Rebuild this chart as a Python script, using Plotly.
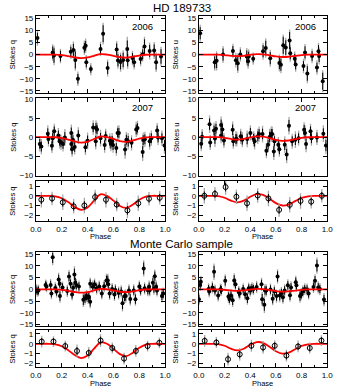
import plotly.graph_objects as go
from plotly.subplots import make_subplots

W, H = 339, 392
FONT = "Liberation Sans, Arial, sans-serif"
RED = "#ff0000"
GREY = "#a8a8a8"

# ---- model curves (phase grid 0..1 step 0.05) ----
model_phase = [0.0, 0.05, 0.1, 0.15, 0.2, 0.25, 0.3, 0.35, 0.4, 0.45, 0.5,
               0.55, 0.6, 0.65, 0.7, 0.75, 0.8, 0.85, 0.9, 0.95, 1.0]
model_q = [0.0, 0.0, 0.0, -0.05, -0.25, -0.65, -1.15, -1.45, -1.2, -0.5, 0.15,
           0.0, -0.5, -1.05, -1.25, -0.9, -0.4, -0.08, 0.0, 0.0, 0.0]
model_u = [0.0, 0.0, 0.0, -0.03, -0.2, -0.5, -0.67, -0.5, -0.1, 0.17, 0.1,
           -0.3, -0.75, -1.0, -0.9, -0.55, -0.22, -0.05, 0.0, 0.0, 0.0]

# ---- 2006 ----
q06_phase = [0.012, 0.13, 0.14, 0.19, 0.27, 0.29, 0.305, 0.325, 0.375, 0.385, 0.39, 0.425, 0.50, 0.52, 0.555,
             0.625, 0.635, 0.655, 0.675, 0.707, 0.71, 0.747, 0.76, 0.81, 0.826, 0.84, 0.88, 0.915, 0.93, 0.968]
q06_val = [6.8, 0.8, -0.4, -0.6, 1.2, 1.9, -2.2, -10.0, 2.8, 3.6, -3.2, -6.0, 2.3, 8.6, -5.5,
           2.1, -2.4, -3.1, -2.2, 2.3, -2.3, -1.4, -3.2, -1.8, 0.1, 3.3, 1.5, 1.7, -3.2, -0.8]
q06_err = [2.2, 2.5, 3.0, 2.2, 2.0, 2.5, 3.5, 2.0, 2.0, 2.0, 2.0, 1.5, 2.0, 3.5, 2.5,
           2.5, 2.5, 3.0, 3.0, 3.5, 2.5, 2.0, 2.0, 2.0, 2.0, 3.0, 2.5, 2.5, 3.0, 3.0]
q06_err2 = [3.2, 3.5, 4.0, 3.0, 3.0, 3.5, 4.5, 3.0, 3.0, 3.0, 3.0, 2.5, 3.0, 4.5, 3.5,
            3.5, 3.5, 4.0, 4.0, 5.0, 3.5, 3.0, 3.0, 3.0, 3.0, 4.0, 3.5, 3.5, 4.0, 4.0]

u06_phase = [0.01, 0.123, 0.138, 0.188, 0.265, 0.288, 0.303, 0.323, 0.373, 0.383, 0.388, 0.423, 0.50, 0.521, 0.556,
             0.627, 0.639, 0.657, 0.677, 0.707, 0.712, 0.747, 0.754, 0.815, 0.827, 0.845, 0.882, 0.92, 0.932, 0.937, 0.965]
u06_val = [8.8, -3.2, -2.6, 0.0, 1.5, -2.3, -3.6, 0.0, -0.8, -2.8, -0.8, -1.7, 1.4, 2.7, -1.5,
           -3.5, -4.2, 3.8, 2.9, 5.8, 0.5, -1.7, -4.1, -4.7, 0.9, -7.8, -0.6, -5.3, 1.4, -0.6, -11.0]
u06_err = [2.5, 2.5, 3.0, 2.5, 2.0, 2.0, 3.0, 2.0, 2.5, 2.0, 2.0, 1.5, 2.5, 3.0, 2.5,
           2.5, 2.5, 3.5, 3.0, 3.5, 2.5, 2.0, 2.0, 2.0, 2.5, 3.0, 2.0, 2.0, 2.5, 2.5, 3.5]
u06_err2 = [3.5, 3.5, 4.0, 3.5, 3.0, 3.0, 4.0, 3.0, 3.5, 3.0, 3.0, 2.5, 3.5, 4.0, 3.5,
            3.5, 3.5, 4.5, 4.0, 4.5, 3.5, 3.0, 3.0, 3.0, 3.5, 4.0, 3.0, 3.0, 3.5, 3.5, 4.5]

# ---- 2007 ----
q07_phase = [0.03, 0.042, 0.092, 0.097, 0.124, 0.13, 0.142, 0.174, 0.184, 0.194, 0.21, 0.224, 0.274, 0.274, 0.28,
             0.286, 0.30, 0.328, 0.383, 0.40, 0.443, 0.463, 0.465, 0.473, 0.50, 0.532, 0.54, 0.572, 0.58, 0.59,
             0.597, 0.622, 0.632, 0.642, 0.69, 0.70, 0.714, 0.74, 0.776, 0.786, 0.826, 0.83, 0.843, 0.88, 0.893,
             0.938, 0.945, 0.975, 0.995]
q07_val = [-1.8, -2.5, 0.9, -0.5, -2.3, -0.3, 1.5, 0.4, -1.1, -1.4, -1.8, -0.1, 1.1, -1.8, -3.2,
           -0.7, -2.6, 0.4, -2.7, -1.0, 2.5, -1.1, 2.4, 2.0, -0.3, -2.1, 0.3, -1.0, -1.7, -1.1,
           -2.1, -2.9, 1.1, 1.1, -3.3, -0.7, -1.1, -1.5, 2.0, 2.4, -3.9, -0.8, -0.6, -1.1, -0.3,
           1.7, -0.1, -0.3, -2.2]
q07_err = [1.3, 1.3, 1.4, 1.3, 1.2, 1.4, 1.3, 1.3, 1.2, 1.3, 1.3, 1.4, 1.4, 1.3, 1.3,
           1.2, 1.3, 1.4, 1.3, 1.4, 1.2, 1.4, 1.3, 1.2, 1.4, 1.3, 1.2, 1.3, 1.3, 1.4,
           1.3, 1.3, 1.2, 1.3, 1.5, 1.3, 1.4, 1.3, 1.3, 1.2, 1.5, 1.3, 1.3, 1.4, 1.3,
           1.3, 1.3, 1.3, 1.4]
q07_err2 = [2.0, 2.0, 2.2, 2.0, 1.9, 2.2, 2.0, 2.0, 1.9, 2.0, 2.0, 2.2, 2.2, 2.0, 2.0,
            1.9, 2.0, 2.2, 2.0, 2.2, 1.9, 2.2, 2.0, 1.9, 2.2, 2.0, 1.9, 2.0, 2.0, 2.2,
            2.0, 2.0, 1.9, 2.0, 2.4, 2.0, 2.2, 2.0, 2.0, 1.9, 2.4, 2.0, 2.0, 2.2, 2.0,
            2.0, 2.0, 2.0, 2.2]

u07_phase = [0.018, 0.025, 0.083, 0.088, 0.118, 0.125, 0.133, 0.173, 0.173, 0.183, 0.195, 0.263, 0.268, 0.288, 0.295,
             0.326, 0.338, 0.376, 0.401, 0.426, 0.434, 0.459, 0.469, 0.496, 0.526, 0.539, 0.551, 0.564, 0.571, 0.584,
             0.589, 0.619, 0.627, 0.669, 0.684, 0.702, 0.727, 0.752, 0.777, 0.82, 0.827, 0.835, 0.87, 0.877, 0.92,
             0.97, 0.99]
u07_val = [-1.75, 0.1, 3.4, -1.4, 1.75, -0.4, 2.2, 3.2, 0.4, 2.0, -0.9, 1.9, -1.1, -0.5, -0.5,
           0.2, -0.7, -0.5, 1.1, -0.5, -1.1, 0.2, 0.8, 0.8, -3.6, -2.0, 0.0, 0.8, 0.8, -3.8,
           -1.1, -2.0, -3.2, -2.0, -4.6, 3.0, -1.1, -0.7, -0.3, 1.9, 1.1, -1.8, 1.5, -0.3, -0.1,
           0.9, -2.2]
u07_err = [1.3, 1.3, 1.5, 1.3, 1.3, 1.4, 1.3, 1.4, 1.3, 1.3, 1.3, 1.4, 1.3, 1.3, 1.2,
           1.3, 1.3, 1.4, 1.3, 1.3, 1.4, 1.3, 1.3, 1.4, 1.3, 1.3, 1.4, 1.3, 1.3, 1.4,
           1.3, 1.3, 1.3, 1.4, 1.5, 1.5, 1.3, 1.4, 1.3, 1.3, 1.3, 1.4, 1.3, 1.3, 1.3,
           1.4, 1.5]
u07_err2 = [2.0, 2.0, 2.3, 2.0, 2.0, 2.2, 2.0, 2.2, 2.0, 2.0, 2.0, 2.2, 2.0, 2.0, 1.9,
            2.0, 2.0, 2.2, 2.0, 2.0, 2.2, 2.0, 2.0, 2.2, 2.0, 2.0, 2.2, 2.0, 2.0, 2.2,
            2.0, 2.0, 2.0, 2.2, 2.3, 2.3, 2.0, 2.2, 2.0, 2.0, 2.0, 2.2, 2.0, 2.0, 2.0,
            2.2, 2.3]

# ---- binned 2006+2007 (12 bins) ----
bin12_phase = [0.042, 0.125, 0.208, 0.292, 0.375, 0.458, 0.542, 0.625, 0.708, 0.792, 0.875, 0.958]
binq_val = [-0.4, -0.27, -0.67, -1.08, -1.0, -0.13, -0.4, -0.9, -1.5, -0.77, -0.3, -0.2]
binq_err = [0.45, 0.4, 0.45, 0.45, 0.45, 0.45, 0.45, 0.4, 0.45, 0.45, 0.4, 0.4]
binq_err2 = [0.8, 0.7, 0.8, 0.75, 0.8, 0.75, 0.8, 0.7, 0.8, 0.8, 0.7, 0.7]
binu_val = [0.0, 0.2, 0.9, -0.1, -0.77, 0.03, -0.27, -1.45, -0.93, -0.53, -0.6, 0.0]
binu_err = [0.45, 0.4, 0.45, 0.45, 0.45, 0.45, 0.45, 0.4, 0.45, 0.45, 0.4, 0.4]
binu_err2 = [0.8, 0.7, 0.8, 0.75, 0.8, 0.75, 0.8, 0.7, 0.8, 0.8, 0.7, 0.7]

# ---- Monte Carlo sample ----
mcq_phase = [0.0, 0.01, 0.02, 0.075, 0.082, 0.114, 0.12, 0.13, 0.15, 0.16, 0.176, 0.184, 0.186, 0.206, 0.243,
             0.256, 0.268, 0.28, 0.288, 0.298, 0.305, 0.313, 0.333, 0.367, 0.38, 0.392, 0.404, 0.41, 0.42, 0.42,
             0.44, 0.454, 0.47, 0.49, 0.51, 0.528, 0.546, 0.556, 0.56, 0.57, 0.59, 0.608, 0.615, 0.64, 0.66,
             0.67, 0.685, 0.695, 0.72, 0.73, 0.757, 0.77, 0.80, 0.81, 0.834, 0.841, 0.866, 0.876, 0.88, 0.905,
             0.913, 0.92, 0.93, 0.937, 0.975, 0.985]
mcq_val = [-0.1, -0.8, -0.5, 1.8, 1.2, 1.8, -1.8, 13.7, 0.5, -0.9, 4.2, 2.4, -2.9, 0.8, -0.7,
           5.4, 2.4, -2.2, 0.7, 6.3, 2.8, 1.8, 1.2, -4.5, -3.8, -2.9, -3.6, -3.2, -5.3, 2.4,
           1.1, 2.1, 0.4, 1.2, -1.8, 1.3, 3.8, 3.8, 2.1, -1.8, 0.1, -2.2, -0.3, -1.6, -0.9,
           -6.0, -3.0, -2.9, -0.5, -4.1, -0.5, -4.2, 1.2, -0.3, 8.9, 0.4, -0.4, 1.1, -0.4, 2.8,
           0.3, 5.6, 1.1, -0.5, -2.9, -1.8]
mcq_err = [1.8, 1.6, 1.7, 1.6, 1.7, 1.8, 1.6, 2.5, 1.7, 1.8, 2.0, 1.7, 2.0, 1.7, 1.8,
           2.0, 1.8, 1.8, 1.7, 2.5, 2.0, 1.8, 1.8, 2.2, 2.0, 1.8, 1.8, 1.8, 2.0, 1.8,
           1.8, 1.7, 1.8, 1.8, 1.8, 1.8, 2.0, 2.0, 1.8, 2.0, 1.8, 2.0, 1.8, 2.0, 1.8,
           2.5, 2.0, 2.0, 1.8, 2.0, 1.8, 2.0, 1.8, 1.8, 2.5, 1.8, 1.8, 1.8, 1.8, 2.0,
           1.8, 2.0, 1.8, 1.8, 1.8, 1.8]
mcq_err2 = [2.6, 2.4, 2.5, 2.4, 2.5, 2.6, 2.4, 3.5, 2.5, 2.6, 2.8, 2.5, 2.8, 2.5, 2.6,
            2.8, 2.6, 2.6, 2.5, 3.5, 2.8, 2.6, 2.6, 3.0, 2.8, 2.6, 2.6, 2.6, 2.8, 2.6,
            2.6, 2.5, 2.6, 2.6, 2.6, 2.6, 2.8, 2.8, 2.6, 2.8, 2.6, 2.8, 2.6, 2.8, 2.6,
            3.5, 2.8, 2.8, 2.6, 2.8, 2.6, 2.8, 2.6, 2.6, 3.5, 2.6, 2.6, 2.6, 2.6, 2.8,
            2.6, 2.8, 2.6, 2.6, 2.6, 2.6]

mcu_phase = [0.0, 0.01, 0.015, 0.075, 0.08, 0.105, 0.118, 0.125, 0.15, 0.168, 0.175, 0.205, 0.23, 0.238, 0.25,
             0.263, 0.275, 0.285, 0.31, 0.318, 0.345, 0.36, 0.378, 0.388, 0.40, 0.413, 0.425, 0.45, 0.488, 0.493,
             0.51, 0.515, 0.525, 0.558, 0.575, 0.588, 0.605, 0.613, 0.63, 0.643, 0.655, 0.668, 0.693, 0.71, 0.718,
             0.755, 0.76, 0.788, 0.798, 0.81, 0.825, 0.843, 0.855, 0.893, 0.905, 0.92, 0.93, 0.943, 0.975]
mcu_val = [-4.2, 1.8, 3.2, 0.1, -0.9, 0.8, 7.5, -0.5, -2.6, 0.0, -0.3, 3.6, -3.1, -4.0, -2.7,
           -4.7, 3.8, 2.1, -1.2, -1.8, 0.1, -2.1, -3.8, 0.4, -0.5, 0.5, 0.1, 1.0, 2.1, -4.2,
           -6.6, -0.5, -0.5, -0.1, -4.0, -0.9, -2.9, 5.5, -2.7, -1.6, -3.4, -0.5, 1.7, -2.5, 0.8,
           3.0, 1.7, -2.9, -2.1, -0.9, 0.1, -0.1, -1.8, 1.0, 3.6, 10.1, 0.8, 0.1, -4.4]
mcu_err = [1.8, 1.7, 1.8, 1.7, 1.7, 1.8, 2.5, 1.7, 1.8, 1.7, 1.7, 2.0, 1.8, 1.8, 1.8,
           2.0, 2.2, 1.8, 1.8, 1.8, 1.7, 1.8, 2.0, 1.7, 1.8, 1.7, 1.7, 1.8, 2.0, 2.2,
           2.5, 1.8, 1.8, 1.8, 2.0, 1.8, 2.0, 2.2, 2.0, 1.8, 2.0, 1.8, 1.8, 2.0, 1.8,
           2.0, 1.8, 2.0, 1.8, 1.8, 1.7, 1.8, 1.8, 1.8, 2.0, 2.5, 1.8, 1.8, 2.0]
mcu_err2 = [2.6, 2.5, 2.6, 2.5, 2.5, 2.6, 3.5, 2.5, 2.6, 2.5, 2.5, 2.8, 2.6, 2.6, 2.6,
            2.8, 3.0, 2.6, 2.6, 2.6, 2.5, 2.6, 2.8, 2.5, 2.6, 2.5, 2.5, 2.6, 2.8, 3.0,
            3.5, 2.6, 2.6, 2.6, 2.8, 2.6, 2.8, 3.0, 2.8, 2.6, 2.8, 2.6, 2.6, 2.8, 2.6,
            2.8, 2.6, 2.8, 2.6, 2.6, 2.5, 2.6, 2.6, 2.6, 2.8, 3.5, 2.6, 2.6, 2.8]

# ---- binned Monte Carlo (11 bins) ----
bin11_phase = [0.045, 0.136, 0.227, 0.318, 0.409, 0.5, 0.591, 0.682, 0.773, 0.864, 0.955]
mcbinq_val = [0.23, 0.23, -0.23, -0.73, -0.93, 0.33, -0.43, -1.5, -0.73, -0.23, 0.1]
mcbinq_err = [0.35, 0.35, 0.35, 0.4, 0.35, 0.4, 0.35, 0.4, 0.35, 0.35, 0.35]
mcbinq_err2 = [0.6, 0.55, 0.55, 0.65, 0.6, 0.65, 0.55, 0.6, 0.6, 0.55, 0.55]
mcbinu_val = [0.3, 0.13, -1.57, -1.07, -0.2, -0.37, -0.2, -1.2, -0.27, -0.43, 0.33]
mcbinu_err = [0.35, 0.35, 0.4, 0.4, 0.35, 0.4, 0.35, 0.4, 0.35, 0.35, 0.35]
mcbinu_err2 = [0.6, 0.55, 0.65, 0.65, 0.6, 0.65, 0.55, 0.6, 0.6, 0.55, 0.55]

# panel pixel boxes
COLS_PX = [(31, 165), (200, 333)]
ROWS_PX = [(13, 92), (97, 176), (181, 222), (254, 329), (333, 371)]
YRANGES = [(-16, 16), (-10.2, 10.2), (-2.6, 1.55), (-15.7, 15.7), (-2.4, 1.4)]
YDTICK = [5, 5, 1, 5, 1]


def px_x(v):
    return v / W


def px_y(v):
    return 1 - v / H


fig = make_subplots(rows=5, cols=2)


def add_points(phase, val, err, err2, row, col, is_bin=False):
    fig.add_trace(go.Scatter(
        x=phase, y=val, mode="markers",
        marker=dict(size=0.1, color=GREY),
        error_y=dict(type="data", array=err2, color=GREY, thickness=1.3, width=0),
        showlegend=False, hoverinfo="skip"), row=row, col=col)
    if is_bin:
        marker = dict(size=5, color="black", symbol="circle-open", line=dict(width=1))
    else:
        marker = dict(size=4, color="black")
    fig.add_trace(go.Scatter(
        x=phase, y=val, mode="markers", marker=marker,
        error_y=dict(type="data", array=err, color="black", thickness=1, width=0),
        showlegend=False), row=row, col=col)


def add_model(model, row, col):
    fig.add_trace(go.Scatter(
        x=model_phase, y=model, mode="lines", line=dict(color=RED, width=1.8, shape="spline"),
        showlegend=False, hoverinfo="skip"), row=row, col=col)


panels = [
    (1, 1, q06_phase, q06_val, q06_err, q06_err2, model_q, False),
    (1, 2, u06_phase, u06_val, u06_err, u06_err2, model_u, False),
    (2, 1, q07_phase, q07_val, q07_err, q07_err2, model_q, False),
    (2, 2, u07_phase, u07_val, u07_err, u07_err2, model_u, False),
    (3, 1, bin12_phase, binq_val, binq_err, binq_err2, model_q, True),
    (3, 2, bin12_phase, binu_val, binu_err, binu_err2, model_u, True),
    (4, 1, mcq_phase, mcq_val, mcq_err, mcq_err2, model_q, False),
    (4, 2, mcu_phase, mcu_val, mcu_err, mcu_err2, model_u, False),
    (5, 1, bin11_phase, mcbinq_val, mcbinq_err, mcbinq_err2, model_q, True),
    (5, 2, bin11_phase, mcbinu_val, mcbinu_err, mcbinu_err2, model_u, True),
]

for row, col, ph, val, err, err2, model, is_bin in panels:
    if is_bin:
        add_model(model, row, col)
        add_points(ph, val, err, err2, row, col, True)
    else:
        add_points(ph, val, err, err2, row, col)
        add_model(model, row, col)

axis_common = dict(showline=True, linecolor="black", linewidth=1, mirror="ticks",
                   ticks="inside", ticklen=4, tickcolor="black", showgrid=False, zeroline=False,
                   tickfont=dict(size=8, color="black"))

for r in range(5):
    top, bot = ROWS_PX[r]
    for c in range(2):
        x0, x1 = COLS_PX[c]
        show_x = r in (2, 4)
        fig.update_xaxes(domain=[px_x(x0), px_x(x1)], range=[0, 1], dtick=0.2,
                         tickformat=".1f", showticklabels=show_x,
                         minor=dict(dtick=0.1, ticks="inside", ticklen=2, tickcolor="black"),
                         **axis_common, row=r + 1, col=c + 1)
        fig.update_yaxes(domain=[px_y(bot), px_y(top)], range=list(YRANGES[r]), dtick=YDTICK[r],
                         **axis_common, row=r + 1, col=c + 1)

ann = []


def text(x, y, s, size, **kw):
    ann.append(dict(x=px_x(x), y=px_y(y), xref="paper", yref="paper", text=s, showarrow=False,
                    xanchor="center", yanchor="middle", borderpad=0,
                    font=dict(size=size, color="black", family=FONT), **kw))


text(182, 5, "HD 189733", 11.5)
text(182, 245, "Monte Carlo sample", 11.5)
for y, lab in ((24, "2006"), (106, "2007")):
    text(142, y, lab, 9.5)
    text(311, y, lab, 9.5)
for top, bot in ROWS_PX:
    yc = (top + bot) / 2
    text(7, yc, "Stokes q", 7.5, textangle=-90)
    text(176, yc, "Stokes u", 7.5, textangle=-90)
for y in (238, 387):
    text(98, y, "Phase", 7.5)
    text(266, y, "Phase", 7.5)

fig.update_layout(
    width=W, height=H,
    margin=dict(l=0, r=0, t=0, b=0),
    paper_bgcolor="white", plot_bgcolor="white",
    font=dict(family=FONT, color="black"),
    annotations=ann,
)

# page body has a default margin; drop it so the figure sits at the window origin
fig.write_html("out.html", config={"displayModeBar": False},
               post_script="document.body.style.margin='0';")
